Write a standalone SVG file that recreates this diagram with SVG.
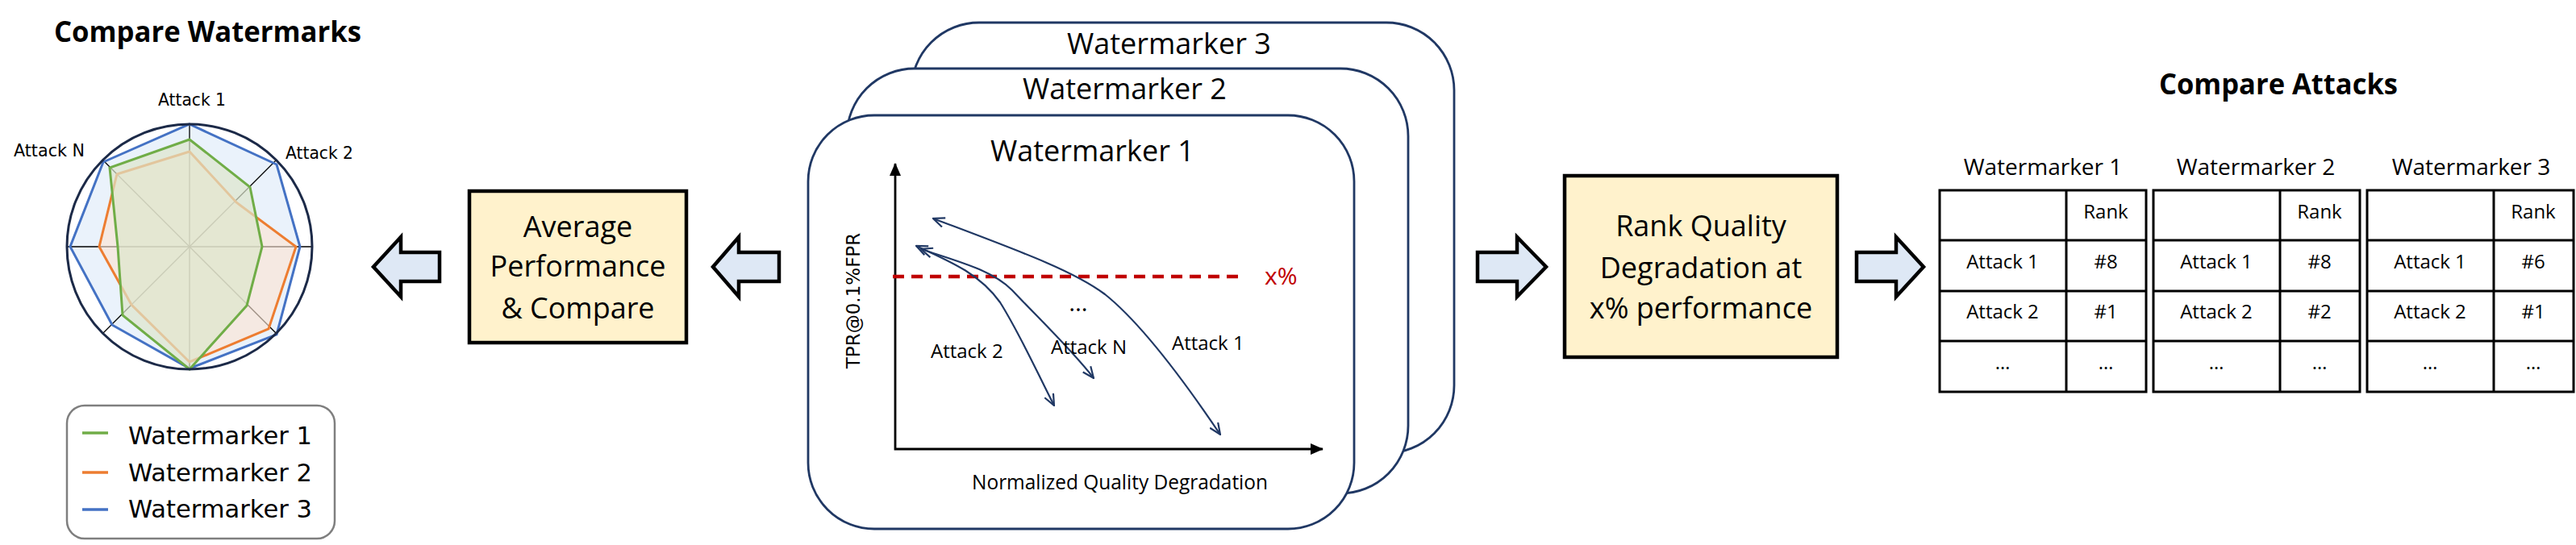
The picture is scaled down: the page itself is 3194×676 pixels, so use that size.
<svg xmlns="http://www.w3.org/2000/svg" width="3194" height="676" viewBox="0 0 3194 676">
<style>
.os{font-family:'Open Sans','Liberation Sans',sans-serif;fill:#000}
.dv{font-family:'DejaVu Sans','Liberation Sans',sans-serif;fill:#000}
.bold{font-weight:bold}
.card{fill:#fff;stroke:#203864;stroke-width:2.8}
.box{fill:#fff2cc;stroke:#000;stroke-width:4.5}
.barrow{fill:#dee8f5;stroke:#000;stroke-width:4.5;stroke-linejoin:miter}
.curve{fill:none;stroke:#203864;stroke-width:2.2;marker-start:url(#oa);marker-end:url(#oa)}
.tbl{fill:none;stroke:#000;stroke-width:3}
.mid{text-anchor:middle}
</style>
<defs>
<marker id="oa" viewBox="0 0 16 14" refX="15" refY="7" markerWidth="16" markerHeight="14" markerUnits="userSpaceOnUse" orient="auto-start-reverse">
<path d="M1,1 L15,7 L1,13" fill="none" stroke="#203864" stroke-width="2.2"/>
</marker>
<marker id="ta" viewBox="0 0 16 14" refX="15" refY="7" markerWidth="16" markerHeight="14" markerUnits="userSpaceOnUse" orient="auto-start-reverse">
<path d="M0,0 L16,7 L0,14 z" fill="#000"/>
</marker>
</defs>
<rect width="3194" height="676" fill="#fff"/>

<g id="radar">
<text class="os bold" x="67" y="52" font-size="35" textLength="381" lengthAdjust="spacingAndGlyphs">Compare Watermarks</text>
<polygon points="235,154 343,204 372,306 343,415 235,457 139,403 87,306 128,201" fill="#eaf2fb" stroke="none"/>
<g stroke="#000" stroke-width="1.3">
<line x1="235" y1="306" x2="235" y2="154"/>
<line x1="235" y1="306" x2="342.5" y2="198.5"/>
<line x1="235" y1="306" x2="387" y2="306"/>
<line x1="235" y1="306" x2="342.5" y2="413.5"/>
<line x1="235" y1="306" x2="235" y2="458"/>
<line x1="235" y1="306" x2="127.5" y2="413.5"/>
<line x1="235" y1="306" x2="83" y2="306"/>
<line x1="235" y1="306" x2="127.5" y2="198.5"/>
</g>
<polygon points="235,154 343,204 372,306 343,415 235,457 139,403 87,306 128,201" fill="none" stroke="#4472c4" stroke-width="3"/>
<polygon points="235,188 293,251 367,306 333,408 235,449 163,378 123,306 145,216" fill="#fbe3d2" fill-opacity="0.62" stroke="#ed7d31" stroke-width="3"/>
<polygon points="235,173 310,232 325,306 306,379 235,458 152,391 146,306 136,208" fill="#dde5cc" fill-opacity="0.7" stroke="none"/>
<polygon points="235,173 310,232 325,306 306,379 235,458 152,391 146,306 136,208" fill="none" stroke="#70ad47" stroke-width="3"/>
<circle cx="235" cy="306" r="152" fill="none" stroke="#1c2a48" stroke-width="3"/>
<text class="dv mid" x="238" y="131" font-size="21" textLength="84" lengthAdjust="spacingAndGlyphs">Attack 1</text>
<text class="dv" x="17" y="194" font-size="21" textLength="88" lengthAdjust="spacingAndGlyphs">Attack N</text>
<text class="dv" x="354" y="197" font-size="21" textLength="84" lengthAdjust="spacingAndGlyphs">Attack 2</text>
</g>

<g id="legend">
<rect x="83" y="503" width="332" height="165" rx="22" fill="#fff" stroke="#7f7f7f" stroke-width="2.5"/>
<line x1="102" y1="537" x2="134" y2="537" stroke="#70ad47" stroke-width="3.5"/>
<line x1="102" y1="586" x2="134" y2="586" stroke="#ed7d31" stroke-width="3.5"/>
<line x1="102" y1="632" x2="134" y2="632" stroke="#4472c4" stroke-width="3.5"/>
<text class="dv" x="159" y="551" font-size="30" textLength="228" lengthAdjust="spacingAndGlyphs">Watermarker 1</text>
<text class="dv" x="159" y="597" font-size="30" textLength="228" lengthAdjust="spacingAndGlyphs">Watermarker 2</text>
<text class="dv" x="159" y="642" font-size="30" textLength="228" lengthAdjust="spacingAndGlyphs">Watermarker 3</text>
</g>

<g id="average">
<rect class="box" x="582" y="237" width="269" height="188"/>
<text class="os mid" x="716.5" y="294" font-size="36">Average</text>
<text class="os mid" x="716.5" y="343" font-size="36">Performance</text>
<text class="os mid" x="716.5" y="395" font-size="36">&amp; Compare</text>
</g>

<g id="card3">
<rect class="card" x="1130" y="28" width="673" height="534" rx="84"/>
<text class="os" x="1323" y="67" font-size="36">Watermarker 3</text>
</g>
<g id="card2">
<rect class="card" x="1050" y="85" width="696" height="527" rx="84"/>
<text class="os" x="1268" y="123" font-size="36">Watermarker 2</text>
</g>
<g id="card1">
<rect class="card" x="1002" y="143" width="677" height="513" rx="82"/>
<text class="os" x="1228" y="200" font-size="36">Watermarker 1</text>
<path d="M1110,203 V557 H1640" fill="none" stroke="#000" stroke-width="2.8" marker-start="url(#ta)" marker-end="url(#ta)"/>
<text class="dv mid" transform="translate(1066,373) rotate(-90)" font-size="23">TPR@0.1%FPR</text>
<text class="os" x="1205" y="607" font-size="25" textLength="367" lengthAdjust="spacingAndGlyphs">Normalized Quality Degradation</text>
<line x1="1107" y1="343" x2="1542" y2="343" stroke="#c00000" stroke-width="4.5" stroke-dasharray="14,9"/>
<text class="os" x="1568" y="353" font-size="30" fill="#c00000" style="fill:#c00000">x%</text>
<path class="curve" d="M1157,271 C1260,310 1330,335 1370,365 C1420,405 1480,490 1513,539"/>
<path class="curve" d="M1136,305 C1180,325 1215,340 1240,375 C1265,415 1285,460 1307,503"/>
<path class="curve" d="M1142,309 C1190,325 1230,335 1255,360 C1285,392 1330,435 1356,469"/>
<text class="os" x="1154" y="444" font-size="24">Attack 2</text>
<text class="os" x="1303" y="439" font-size="24">Attack N</text>
<text class="os" x="1453" y="434" font-size="24">Attack 1</text>
<text class="os mid" x="1337" y="386" font-size="30">…</text>
</g>

<g id="rank">
<rect class="box" x="1940" y="218" width="338" height="225"/>
<text class="os mid" x="2109" y="293" font-size="36">Rank Quality</text>
<text class="os mid" x="2109" y="345" font-size="36">Degradation at</text>
<text class="os mid" x="2109" y="395" font-size="36">x% performance</text>
</g>

<g id="tables">
<text class="os bold" x="2677" y="117" font-size="35" textLength="296" lengthAdjust="spacingAndGlyphs">Compare Attacks</text>
<g id="table1">
<text class="os mid" x="2533" y="217" font-size="28">Watermarker 1</text>
<rect class="tbl" x="2405" y="236" width="256" height="250"/>
<path class="tbl" d="M2405,298 H2661 M2405,361 H2661 M2405,423 H2661 M2562,236 V486"/>
<text class="os mid" x="2611" y="271" font-size="24">Rank</text>
<text class="os mid" x="2483" y="333" font-size="24">Attack 1</text>
<text class="os mid" x="2611" y="333" font-size="24">#8</text>
<text class="os mid" x="2483" y="395" font-size="24">Attack 2</text>
<text class="os mid" x="2611" y="395" font-size="24">#1</text>
<text class="os mid" x="2483" y="458" font-size="24">…</text>
<text class="os mid" x="2611" y="458" font-size="24">…</text>
</g>
<g id="table2">
<text class="os mid" x="2797" y="217" font-size="28">Watermarker 2</text>
<rect class="tbl" x="2670" y="236" width="256" height="250"/>
<path class="tbl" d="M2670,298 H2926 M2670,361 H2926 M2670,423 H2926 M2827,236 V486"/>
<text class="os mid" x="2876" y="271" font-size="24">Rank</text>
<text class="os mid" x="2748" y="333" font-size="24">Attack 1</text>
<text class="os mid" x="2876" y="333" font-size="24">#8</text>
<text class="os mid" x="2748" y="395" font-size="24">Attack 2</text>
<text class="os mid" x="2876" y="395" font-size="24">#2</text>
<text class="os mid" x="2748" y="458" font-size="24">…</text>
<text class="os mid" x="2876" y="458" font-size="24">…</text>
</g>
<g id="table3">
<text class="os mid" x="3064" y="217" font-size="28">Watermarker 3</text>
<rect class="tbl" x="2935" y="236" width="256" height="250"/>
<path class="tbl" d="M2935,298 H3191 M2935,361 H3191 M2935,423 H3191 M3092,236 V486"/>
<text class="os mid" x="3141" y="271" font-size="24">Rank</text>
<text class="os mid" x="3013" y="333" font-size="24">Attack 1</text>
<text class="os mid" x="3141" y="333" font-size="24">#6</text>
<text class="os mid" x="3013" y="395" font-size="24">Attack 2</text>
<text class="os mid" x="3141" y="395" font-size="24">#1</text>
<text class="os mid" x="3013" y="458" font-size="24">…</text>
<text class="os mid" x="3141" y="458" font-size="24">…</text>
</g>
</g>

<g id="connectors">
<polygon class="barrow" points="463,331 497,294 497,313 545,313 545,349 497,349 497,368"/>
<polygon class="barrow" points="884,331 916,294 916,313 966,313 966,349 916,349 916,368"/>
<polygon class="barrow" points="1832,313 1881,313 1881,294 1917,331 1881,368 1881,349 1832,349"/>
<polygon class="barrow" points="2302,313 2351,313 2351,294 2385,331 2351,368 2351,349 2302,349"/>
</g>
</svg>
